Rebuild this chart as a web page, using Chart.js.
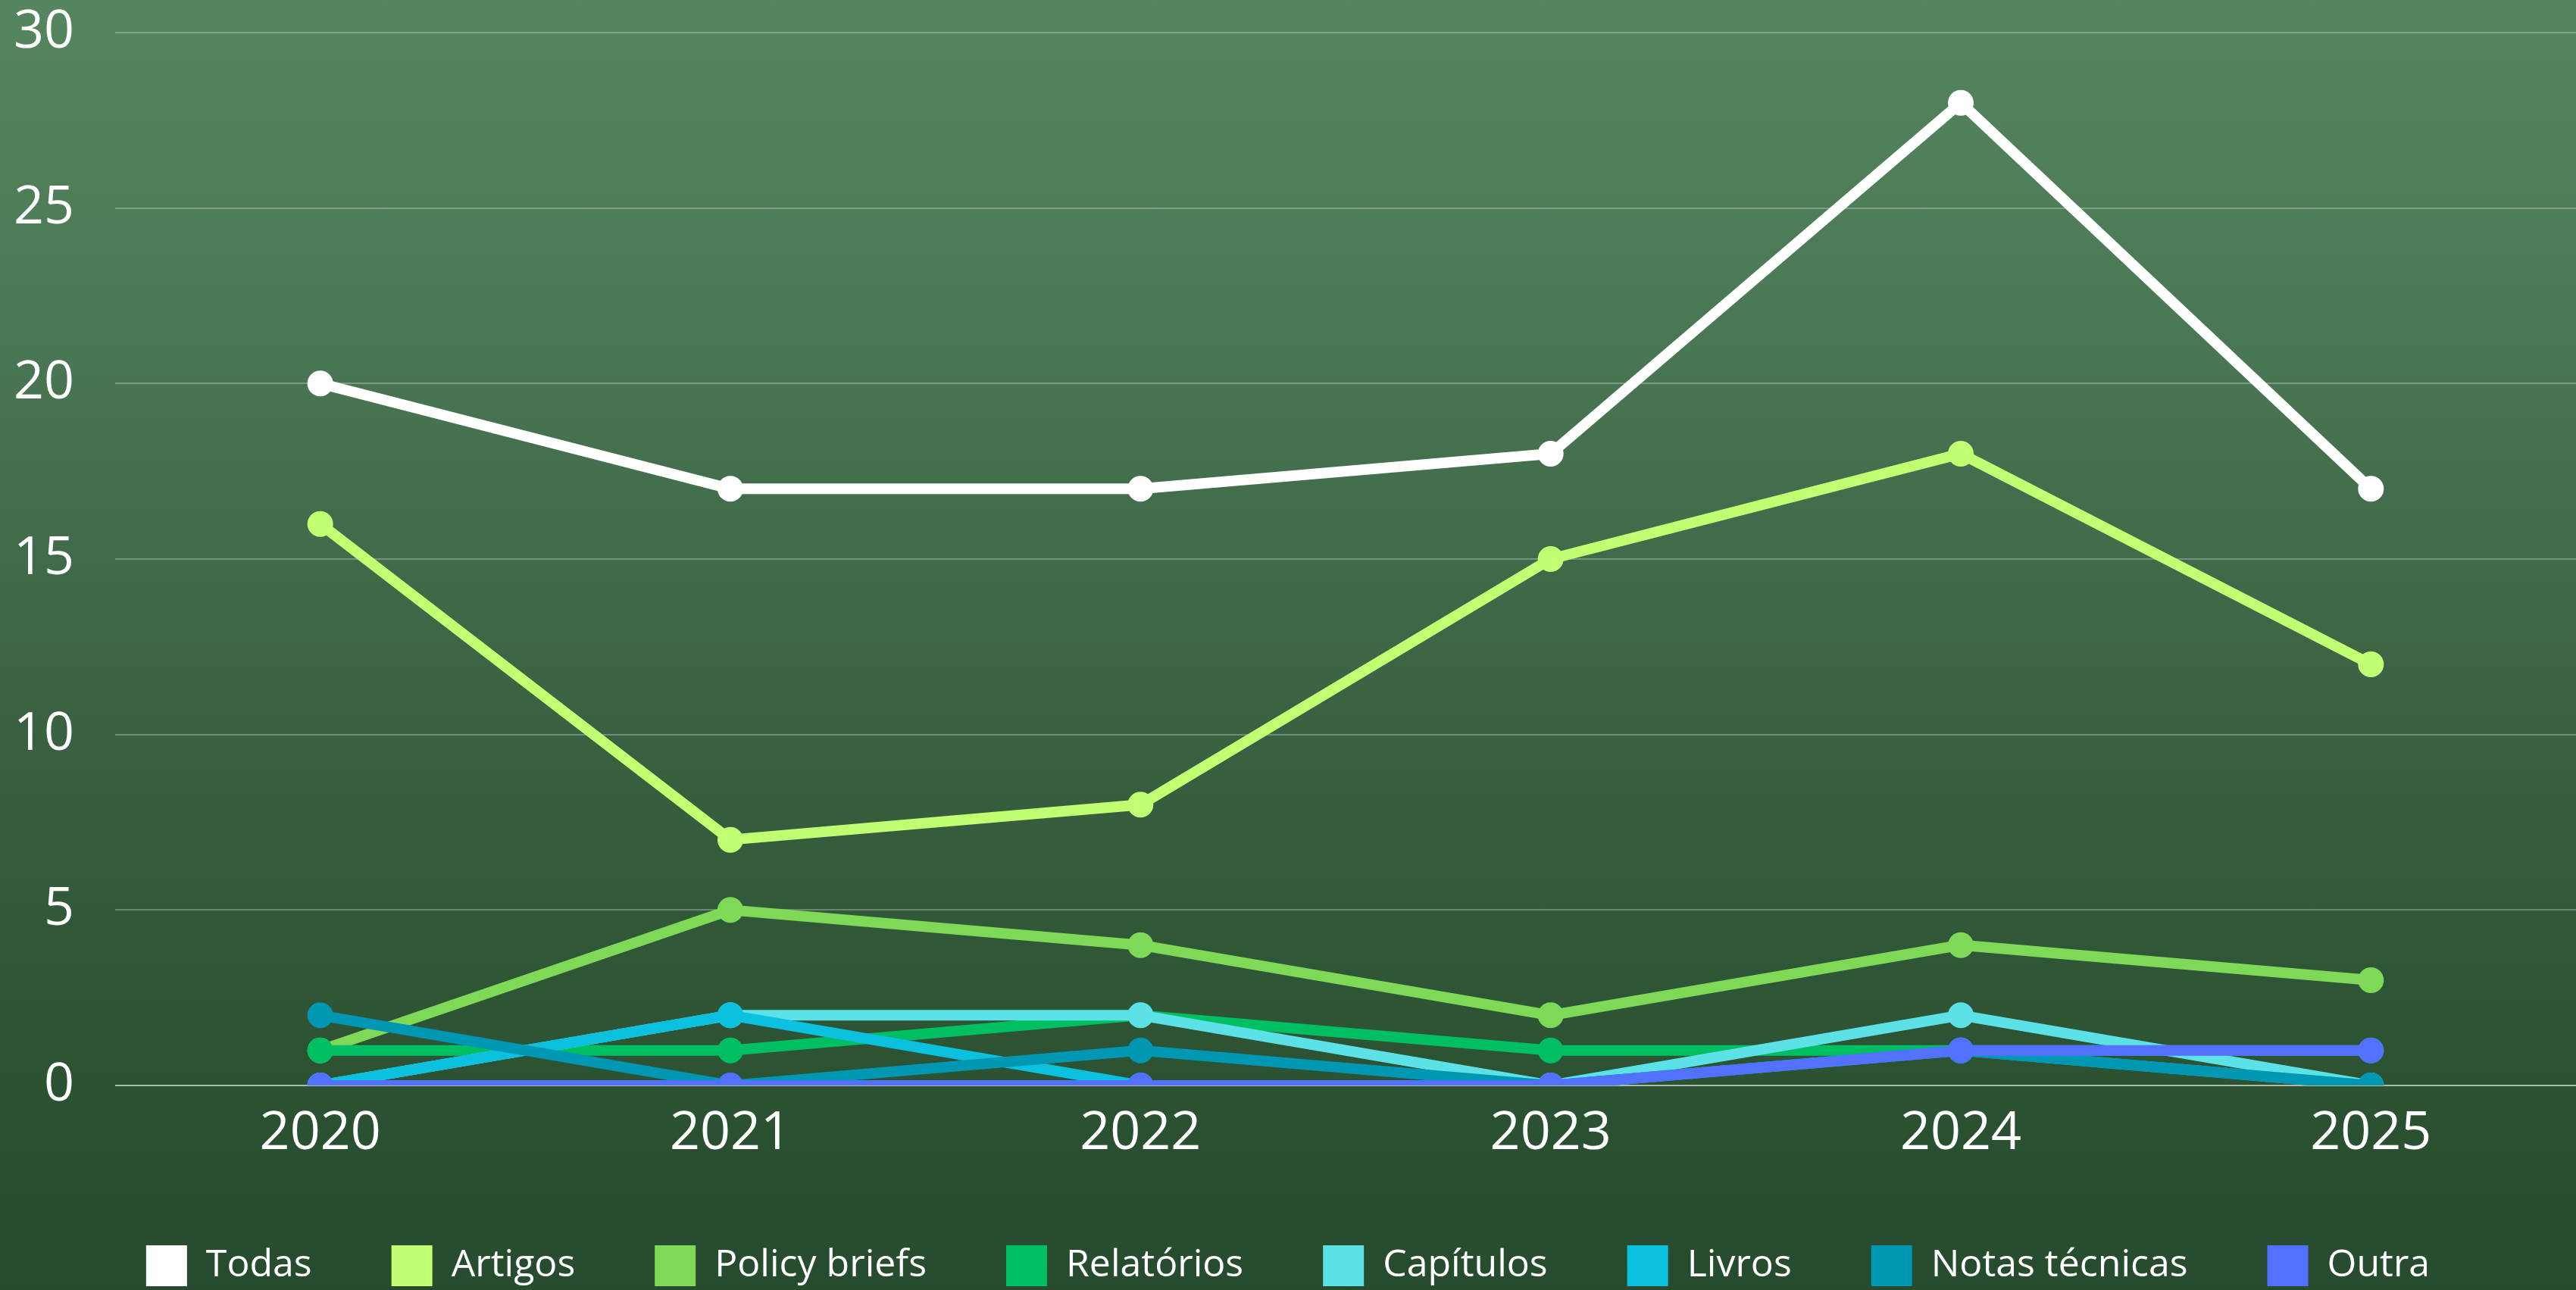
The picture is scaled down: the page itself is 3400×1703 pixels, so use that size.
<!DOCTYPE html>
<html>
<head>
<meta charset="utf-8">
<script src="https://cdn.jsdelivr.net/npm/chart.js@4.4.1/dist/chart.umd.min.js"></script>
<style>
  html, body { margin: 0; padding: 0; overflow: hidden; }
  #frame {
    width: 3400px;
    height: 1703px;
    overflow: hidden;
    background: linear-gradient(180deg, #55865f 0%, #4a7855 25%, #3d6546 50%, #2f5636 75%, #264b2e 100%);
  }
</style>
</head>
<body>
<div id="frame">
  <canvas id="chart" width="3400" height="1708"></canvas>
</div>
<script>
  // anos e contagens por tipo de publicação
  const years = ['2020', '2021', '2022', '2023', '2024', '2025'];
  const todas = [20, 17, 17, 18, 28, 17];
  const artigos = [16, 7, 8, 15, 18, 12];
  const policyBriefs = [1, 5, 4, 2, 4, 3];
  const relatorios = [1, 1, 2, 1, 1, 1];
  const capitulos = [0, 2, 2, 0, 2, 0];
  const livros = [0, 2, 0, 0, 1, 0];
  const notasTecnicas = [2, 0, 1, 0, 1, 0];
  const outra = [0, 0, 0, 0, 1, 1];
  const yTicks = [0, 5, 10, 15, 20, 25, 30];

  const series = [
    ['Todas', todas, '#ffffff'],
    ['Artigos', artigos, '#c1ff72'],
    ['Policy briefs', policyBriefs, '#7ed957'],
    ['Relatórios', relatorios, '#00bf63'],
    ['Capítulos', capitulos, '#5ce1e6'],
    ['Livros', livros, '#0cc0df'],
    ['Notas técnicas', notasTecnicas, '#0097b2'],
    ['Outra', outra, '#5271ff'],
  ];

  const datasets = series.map(([label, data, color], i) => ({
    label,
    data,
    borderColor: color,
    backgroundColor: color,
    pointBackgroundColor: color,
    pointBorderColor: color,
    borderWidth: 14,
    pointRadius: 16,
    pointBorderWidth: 2,
    tension: 0,
    order: series.length - i, // later series drawn on top
  }));

  const ctx = document.getElementById('chart').getContext('2d');
  new Chart(ctx, {
    type: 'line',
    data: { labels: years, datasets },
    options: {
      responsive: false,
      animation: false,
      layout: { autoPadding: false, padding: { top: 43, left: 0, right: 0, bottom: 0 } },
      plugins: {
        tooltip: { enabled: false },
        legend: {
          position: 'bottom',
          labels: {
            color: '#ffffff',
            font: { family: 'Open Sans', size: 50 },
            boxWidth: 54,
            boxHeight: 54,
            padding: 105,
            generateLabels: (chart) =>
              Chart.defaults.plugins.legend.labels.generateLabels(chart)
                .sort((a, b) => a.datasetIndex - b.datasetIndex)
                .map((item) => ({ ...item, lineWidth: 0, fillStyle: series[item.datasetIndex][2] })),
          },
        },
      },
      scales: {
        x: {
          offset: true,
          afterFit: (scale) => { scale.height = 106; scale.paddingLeft = 0; scale.paddingRight = 0; },
          grid: { display: false, drawTicks: false },
          border: { display: false },
          ticks: {
            color: '#ffffff',
            font: { family: 'Open Sans', size: 70 },
            padding: 22,
          },
        },
        y: {
          min: 0,
          max: 30,
          afterFit: (scale) => { scale.width = 152; scale.paddingTop = 0; scale.paddingBottom = 0; },
          afterBuildTicks: (scale) => { scale.ticks = yTicks.map((v) => ({ value: v })); },
          grid: {
            drawTicks: false,
            lineWidth: 2,
            color: (c) => (c.tick && c.tick.value === 0 ? 'rgba(215,220,215,0.75)' : 'rgba(255,255,255,0.28)'),
          },
          border: { display: false },
          ticks: {
            color: '#ffffff',
            font: { family: 'Open Sans', size: 70 },
            padding: 54,
          },
        },
      },
    },
  });
</script>
</body>
</html>
